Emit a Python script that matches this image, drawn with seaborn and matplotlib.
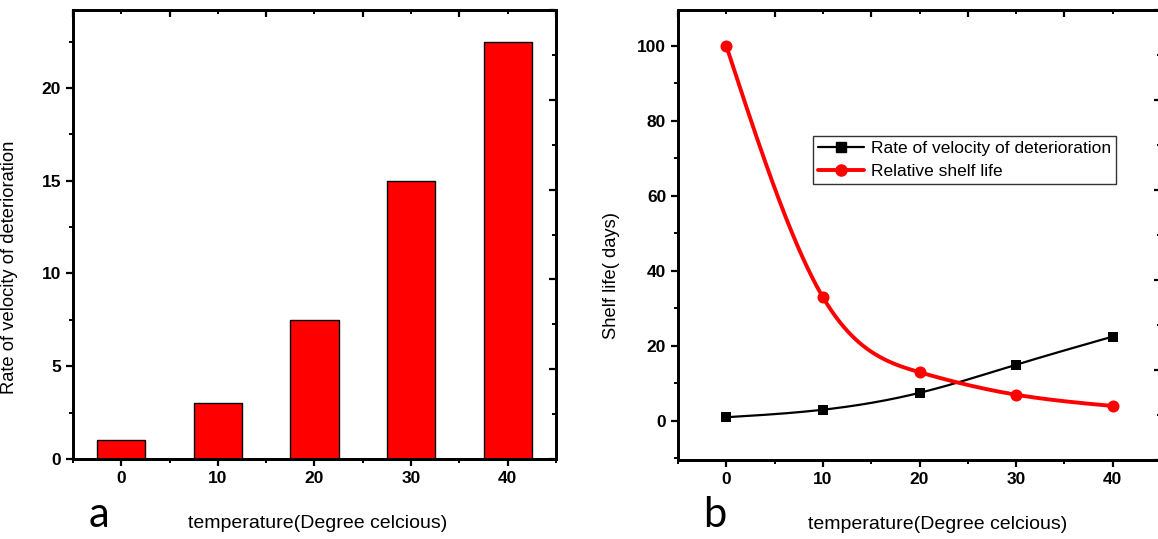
import numpy as np
import pandas as pd
import matplotlib
matplotlib.use("Agg")
import matplotlib.pyplot as plt
import seaborn as sns
from matplotlib.lines import Line2D
from matplotlib.ticker import MultipleLocator

# data
temps = [0, 10, 20, 30, 40]
rate = [1, 3, 7.5, 15, 22.5]
shelf = [100, 33, 13, 7, 4]

xlabel = "temperature(Degree celcious)"
ylabel_a = "Rate of velocity of deterioration"
ylabel_b = "Shelf life( days)"
legend_labels = ["Rate of velocity of deterioration", "Relative shelf life"]

sns.set_style("ticks")
plt.rcParams["font.family"] = ["Liberation Sans", "DejaVu Sans"]
plt.rcParams["text.color"] = "black"
plt.rcParams["axes.labelcolor"] = "black"


def smooth(x, y, n=300):
    # natural cubic spline, only used to draw the curved line
    x = np.asarray(x, float)
    y = np.asarray(y, float)
    h = np.diff(x)
    k = len(x)
    A = np.zeros((k, k))
    b = np.zeros(k)
    A[0, 0] = A[-1, -1] = 1
    for i in range(1, k - 1):
        A[i, i - 1] = h[i - 1]
        A[i, i] = 2 * (h[i - 1] + h[i])
        A[i, i + 1] = h[i]
        b[i] = 6 * ((y[i + 1] - y[i]) / h[i] - (y[i] - y[i - 1]) / h[i - 1])
    M = np.linalg.solve(A, b)
    xs = np.linspace(x[0], x[-1], n)
    idx = np.clip(np.searchsorted(x, xs) - 1, 0, k - 2)
    x0, x1 = x[idx], x[idx + 1]
    hh = x1 - x0
    ys = (M[idx] * (x1 - xs) ** 3 / (6 * hh) + M[idx + 1] * (xs - x0) ** 3 / (6 * hh)
          + (y[idx] / hh - M[idx] * hh / 6) * (x1 - xs)
          + (y[idx + 1] / hh - M[idx + 1] * hh / 6) * (xs - x0))
    return xs, ys


def origin_frame(ax, ymajor, yminor):
    for s in ax.spines.values():
        s.set_linewidth(1.8)
        s.set_color("black")
    ax.xaxis.set_major_locator(MultipleLocator(10))
    ax.xaxis.set_minor_locator(MultipleLocator(5))
    ax.yaxis.set_major_locator(MultipleLocator(ymajor))
    ax.yaxis.set_minor_locator(MultipleLocator(yminor))
    ax.tick_params(which="major", direction="out", length=5, width=1.6,
                   labelsize=12.5, colors="black")
    ax.tick_params(which="minor", direction="out", length=3, width=1.4, colors="black")
    for lab in ax.get_xticklabels() + ax.get_yticklabels():
        lab.set_fontweight("bold")
    # mirrored axes (own scales, like the original plot)
    axr = ax.twinx()
    axr.set_ylim(0, 5)
    axr.yaxis.set_major_locator(MultipleLocator(1))
    axr.yaxis.set_minor_locator(MultipleLocator(0.5))
    axr.tick_params(which="major", direction="in", length=5, width=1.6, labelright=False, colors="black")
    axr.tick_params(which="minor", direction="in", length=3, width=1.4, colors="black")
    axt = ax.twiny()
    axt.set_xlim(0, 50)
    axt.xaxis.set_major_locator(MultipleLocator(10))
    axt.xaxis.set_minor_locator(MultipleLocator(5))
    axt.tick_params(which="major", direction="in", length=5, width=1.6, labeltop=False, colors="black")
    axt.tick_params(which="minor", direction="in", length=3, width=1.4, colors="black")
    for a in (axr, axt):
        for s in a.spines.values():
            s.set_linewidth(1.8)
            s.set_color("black")


fig = plt.figure(figsize=(11.58, 5.39), dpi=100)
ax1 = fig.add_axes([0.0630, 0.1484, 0.4171, 0.8330])
ax2 = fig.add_axes([0.5855, 0.1466, 0.4171, 0.8350])

# a: bars
df = pd.DataFrame({"temp": temps, "rate": rate})
sns.barplot(data=df, x="temp", y="rate", native_scale=True, width=0.5,
            color="#ff0000", saturation=1, edgecolor="black", linewidth=1, ax=ax1)
ax1.set_xlim(-5, 45)
ax1.set_ylim(0, 24.2)
ax1.set_xlabel(xlabel, fontsize=14)
ax1.set_ylabel(ylabel_a, fontsize=13.2)
ax1.xaxis.set_label_coords(0.507, -0.125)
ax1.yaxis.set_label_coords(-0.114, 0.428)
origin_frame(ax1, 5, 2.5)

# b: lines
xs, ys = smooth(temps, rate)
sns.lineplot(x=xs, y=ys, color="black", linewidth=1.6, ax=ax2)
sns.scatterplot(x=temps, y=rate, marker="s", s=55, color="black", edgecolor="black",
                linewidth=0, ax=ax2, zorder=3)
xs2, ys2 = smooth(temps, shelf)
sns.lineplot(x=xs2, y=ys2, color="#ff0000", linewidth=2.8, ax=ax2)
sns.scatterplot(x=temps, y=shelf, marker="o", s=75, color="#ff0000", edgecolor="#ff0000",
                linewidth=0, ax=ax2, zorder=3)
ax2.set_xlim(-5, 45)
ax2.set_ylim(-10.4, 109.6)
ax2.set_xlabel(xlabel, fontsize=14)
ax2.set_ylabel(ylabel_b, fontsize=13.2)
ax2.xaxis.set_label_coords(0.538, -0.125)
ax2.yaxis.set_label_coords(-0.12, 0.41)

handles = [Line2D([], [], color="black", lw=1.6, marker="s", markersize=7),
           Line2D([], [], color="#ff0000", lw=2.8, marker="o", markersize=8)]
leg = ax2.legend(handles, legend_labels, loc="upper left", bbox_to_anchor=(0.28, 0.72),
                 frameon=True, fancybox=False, fontsize=12.5, handlelength=2.6,
                 borderpad=0.3, labelspacing=0.45, handletextpad=0.4, borderaxespad=0)
leg.get_frame().set_edgecolor("black")
leg.get_frame().set_linewidth(1.0)
origin_frame(ax2, 20, 10)

fig.text(0.0855, 0.022, "a", fontsize=30, color="black", family=["Lato", "DejaVu Sans"],
         ha="center", va="baseline")
fig.text(0.6175, 0.022, "b", fontsize=30, color="black", family=["Lato", "DejaVu Sans"],
         ha="center", va="baseline")

fig.savefig("out.png", dpi=100)
